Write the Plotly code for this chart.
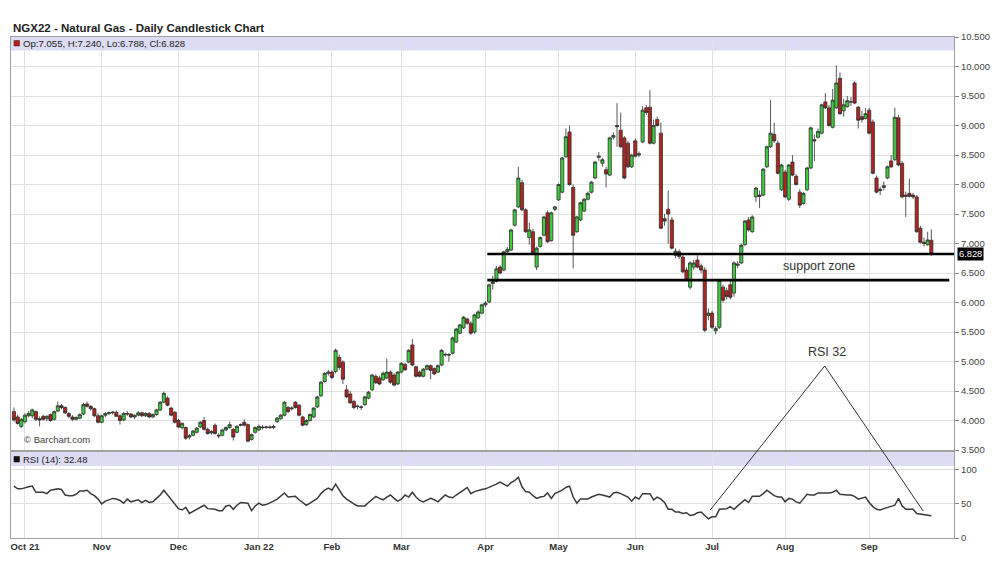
import pandas as pd
import plotly.graph_objects as go

# ---------------- trading calendar ----------------
first_day = "2021-09-28"
last_day = "2022-09-27"
exchange_holidays = ["2021-11-25", "2021-12-24", "2022-01-17", "2022-02-21", "2022-04-15",
                     "2022-05-30", "2022-06-20", "2022-07-04", "2022-09-05"]
trade_dates = pd.bdate_range(first_day, last_day, freq="C", holidays=exchange_holidays)

month_labels = ["Oct 21", "Nov", "Dec", "Jan 22", "Feb", "Mar", "Apr", "May", "Jun", "Jul", "Aug", "Sep"]

# ---------------- OHLC data ----------------
open_px = [
    4.15, 4.06, 3.90, 3.98, 4.08, 4.08, 4.15, 4.03, 4.07, 4.03,
    4.10, 4.02, 4.16, 4.25, 4.22, 4.12, 4.06, 4.02, 4.04, 4.11,
    4.28, 4.24, 4.20, 4.08, 3.97, 4.09, 4.12, 4.13, 4.14, 4.08,
    4.01, 4.12, 4.11, 4.06, 4.09, 4.13, 4.08, 4.12, 4.06, 4.10,
    4.18, 4.31, 4.38, 4.21, 4.14, 4.00, 3.88, 3.88, 3.72, 3.75,
    3.80, 3.89, 4.00, 3.85, 3.79, 3.92, 3.75, 3.75, 3.84, 3.88,
    3.85, 3.80, 3.92, 3.97, 3.93, 3.68, 3.80, 3.84, 3.89, 3.88,
    3.89, 3.88, 3.98, 4.03, 4.09, 4.22, 4.20, 4.31, 4.26, 4.06,
    3.93, 4.00, 4.06, 4.23, 4.42, 4.66, 4.80, 4.82, 4.83, 5.07,
    4.99, 4.52, 4.45, 4.32, 4.24, 4.22, 4.27, 4.38, 4.52, 4.75,
    4.72, 4.69, 4.72, 4.82, 4.77, 4.62, 4.82, 4.95, 4.99, 5.28,
    4.91, 4.82, 4.75, 4.87, 4.93, 4.88, 4.82, 4.94, 5.11, 5.12,
    5.14, 5.33, 5.48, 5.57, 5.72, 5.65, 5.50, 5.74, 5.82, 5.96,
    6.01, 6.32, 6.36, 6.60, 6.55, 6.86, 6.89, 7.31, 7.62, 8.03,
    7.57, 7.10, 7.20, 6.60, 6.95, 7.14, 7.52, 7.05, 7.58, 7.74,
    7.87, 8.47, 8.89, 7.95, 7.20, 7.40, 7.55, 7.75, 7.87, 8.11,
    8.46, 8.36, 8.25, 8.16, 8.80, 9.00, 8.92, 8.79, 8.70, 8.30,
    8.74, 8.50, 8.72, 9.30, 9.31, 8.70, 9.10, 8.87, 7.42, 7.58,
    7.40, 6.80, 6.86, 6.77, 6.55, 6.26, 6.60, 6.72, 6.62, 6.55,
    5.78, 5.82, 5.52, 5.58, 6.26, 6.20, 6.30, 6.16, 6.63, 6.67,
    6.98, 7.40, 7.20, 7.79, 7.82, 7.82, 8.30, 8.64, 8.85, 8.70,
    7.91, 8.21, 7.75, 8.38, 8.14, 7.87, 7.68, 7.91, 8.28, 8.76,
    8.80, 8.87, 9.40, 9.30, 8.97, 9.30, 9.80, 9.25, 9.32, 9.40,
    9.72, 9.31, 9.15, 9.12, 9.26, 9.06, 8.11, 7.92, 7.95, 8.11,
    8.40, 8.42, 9.13, 8.36, 7.82, 7.85, 7.82, 7.79, 7.26, 7.02,
    6.98, 7.055,
]
high_px = [
    4.22, 4.10, 4.04, 4.12, 4.16, 4.20, 4.17, 4.07, 4.10, 4.09,
    4.12, 4.17, 4.32, 4.28, 4.24, 4.14, 4.09, 4.07, 4.12, 4.30,
    4.32, 4.26, 4.22, 4.12, 4.10, 4.14, 4.15, 4.16, 4.17, 4.10,
    4.14, 4.16, 4.13, 4.10, 4.16, 4.15, 4.14, 4.14, 4.12, 4.20,
    4.33, 4.49, 4.41, 4.23, 4.16, 4.03, 3.97, 3.90, 3.77, 3.84,
    3.89, 3.99, 4.06, 3.88, 3.84, 3.95, 3.78, 3.86, 3.90, 3.98,
    3.87, 3.92, 3.95, 4.02, 3.95, 3.78, 3.90, 3.93, 3.92, 3.91,
    3.92, 3.93, 4.06, 4.11, 4.33, 4.25, 4.24, 4.33, 4.28, 4.08,
    4.02, 4.12, 4.23, 4.42, 4.67, 4.82, 4.86, 4.85, 5.22, 5.12,
    5.02, 4.60, 4.50, 4.35, 4.27, 4.26, 4.42, 4.50, 4.79, 4.78,
    4.76, 4.83, 5.05, 4.85, 4.80, 4.84, 4.99, 4.98, 5.21, 5.38,
    4.93, 4.85, 4.89, 4.95, 4.95, 4.90, 4.95, 5.21, 5.15, 5.14,
    5.42, 5.57, 5.64, 5.77, 5.74, 5.68, 5.81, 5.87, 5.98, 6.02,
    6.32, 6.45, 6.62, 6.63, 6.88, 6.94, 7.25, 7.59, 8.30, 8.08,
    7.60, 7.35, 7.25, 6.95, 7.12, 7.47, 7.56, 7.54, 7.64, 8.02,
    8.47, 8.95, 9.00, 8.00, 7.47, 7.71, 7.77, 7.88, 8.06, 8.40,
    8.55, 8.45, 8.30, 8.81, 8.88, 9.38, 9.22, 8.82, 8.74, 8.52,
    8.78, 8.56, 9.33, 9.35, 9.60, 9.10, 9.15, 9.05, 7.50, 7.90,
    7.45, 6.92, 6.90, 6.80, 6.60, 6.70, 6.72, 6.80, 6.66, 6.60,
    5.90, 5.86, 5.60, 6.40, 6.30, 6.25, 6.38, 6.70, 6.70, 7.00,
    7.40, 7.45, 7.48, 7.96, 7.90, 8.28, 8.66, 9.43, 9.05, 8.75,
    8.35, 8.25, 8.35, 8.50, 8.18, 7.92, 7.87, 8.30, 8.98, 8.85,
    8.95, 9.37, 9.55, 9.35, 9.62, 10.02, 9.90, 9.45, 9.50, 9.48,
    9.75, 9.33, 9.25, 9.30, 9.30, 9.10, 8.15, 7.96, 8.05, 8.32,
    8.50, 9.30, 9.18, 8.40, 7.88, 8.10, 7.86, 7.82, 7.30, 7.10,
    7.20, 7.240,
]
low_px = [
    3.98, 3.93, 3.87, 3.95, 4.05, 4.04, 3.99, 3.90, 4.00, 3.99,
    3.98, 4.00, 4.14, 4.19, 4.11, 4.04, 3.99, 4.00, 4.02, 4.09,
    4.22, 4.17, 4.06, 3.95, 3.95, 4.06, 4.09, 4.10, 4.06, 3.93,
    3.99, 4.08, 4.04, 4.02, 4.07, 4.06, 4.06, 4.04, 4.04, 4.08,
    4.16, 4.29, 4.24, 4.07, 3.95, 3.87, 3.85, 3.67, 3.68, 3.73,
    3.78, 3.87, 3.83, 3.76, 3.76, 3.76, 3.70, 3.73, 3.82, 3.86,
    3.66, 3.78, 3.90, 3.90, 3.63, 3.66, 3.78, 3.82, 3.85, 3.86,
    3.86, 3.85, 3.96, 4.01, 4.07, 4.13, 4.17, 4.20, 4.07, 3.90,
    3.91, 3.98, 4.04, 4.21, 4.40, 4.64, 4.76, 4.70, 4.80, 4.86,
    4.62, 4.38, 4.28, 4.19, 4.19, 4.18, 4.25, 4.36, 4.50, 4.62,
    4.60, 4.67, 4.70, 4.62, 4.58, 4.60, 4.80, 4.84, 4.97, 4.92,
    4.73, 4.73, 4.73, 4.85, 4.70, 4.77, 4.80, 4.92, 5.08, 5.00,
    5.12, 5.31, 5.46, 5.55, 5.62, 5.45, 5.47, 5.72, 5.80, 5.92,
    5.99, 6.22, 6.34, 6.48, 6.53, 6.84, 6.87, 7.29, 7.60, 7.55,
    7.18, 6.98, 6.82, 6.55, 6.93, 7.12, 7.01, 7.03, 7.55, 7.72,
    7.85, 8.45, 7.98, 6.58, 7.18, 7.38, 7.53, 7.73, 7.85, 8.09,
    8.40, 8.30, 7.95, 8.14, 8.76, 8.64, 8.62, 8.09, 8.28, 8.28,
    8.46, 8.46, 8.70, 9.18, 8.68, 8.68, 8.98, 7.24, 7.30, 7.00,
    6.90, 6.75, 6.74, 6.50, 6.36, 6.22, 6.55, 6.58, 6.50, 5.50,
    5.70, 5.55, 5.46, 5.55, 6.00, 6.05, 6.05, 6.10, 6.58, 6.65,
    6.96, 7.20, 7.18, 7.70, 7.60, 7.80, 8.28, 8.62, 8.70, 8.17,
    7.89, 7.77, 7.72, 8.14, 7.98, 7.60, 7.66, 7.89, 8.26, 8.40,
    8.78, 8.85, 9.28, 8.98, 8.95, 9.28, 9.18, 9.15, 9.30, 9.33,
    9.36, 8.95, 9.05, 9.10, 8.85, 8.17, 7.85, 7.82, 7.90, 8.09,
    8.28, 8.40, 8.31, 7.77, 7.45, 7.78, 7.75, 7.18, 7.00, 6.95,
    6.96, 6.788,
]
close_px = [
    4.01, 3.95, 4.02, 4.09, 4.12, 4.18, 4.02, 4.01, 4.02, 4.07,
    4.00, 4.15, 4.25, 4.22, 4.13, 4.07, 4.02, 4.05, 4.10, 4.27,
    4.24, 4.20, 4.08, 3.97, 4.08, 4.12, 4.13, 4.14, 4.07, 4.00,
    4.12, 4.11, 4.06, 4.09, 4.13, 4.08, 4.12, 4.06, 4.10, 4.18,
    4.31, 4.46, 4.26, 4.09, 3.97, 3.89, 3.95, 3.70, 3.74, 3.82,
    3.87, 3.97, 3.85, 3.78, 3.81, 3.78, 3.74, 3.84, 3.88, 3.93,
    3.72, 3.90, 3.93, 3.92, 3.65, 3.76, 3.88, 3.90, 3.88, 3.89,
    3.88, 3.90, 4.04, 4.09, 4.31, 4.15, 4.21, 4.22, 4.09, 3.92,
    4.00, 4.10, 4.21, 4.40, 4.65, 4.80, 4.82, 4.73, 5.19, 4.90,
    4.70, 4.40, 4.30, 4.22, 4.24, 4.23, 4.40, 4.48, 4.77, 4.64,
    4.62, 4.80, 4.82, 4.65, 4.60, 4.82, 4.97, 4.86, 5.19, 4.94,
    4.75, 4.75, 4.87, 4.93, 4.85, 4.79, 4.93, 5.19, 5.12, 5.11,
    5.40, 5.55, 5.62, 5.75, 5.65, 5.48, 5.79, 5.84, 5.96, 5.99,
    6.30, 6.35, 6.57, 6.50, 6.86, 6.90, 7.23, 7.57, 8.11, 7.57,
    7.20, 7.23, 6.84, 6.92, 7.10, 7.45, 7.03, 7.52, 7.62, 8.00,
    8.45, 8.81, 8.00, 7.14, 7.45, 7.69, 7.75, 7.85, 8.04, 8.38,
    8.48, 8.42, 8.18, 8.79, 8.83, 8.98, 8.64, 8.11, 8.30, 8.50,
    8.48, 8.52, 9.26, 9.22, 8.70, 9.00, 9.00, 7.26, 7.38, 7.50,
    6.92, 6.87, 6.78, 6.52, 6.38, 6.67, 6.67, 6.60, 6.55, 5.53,
    5.82, 5.58, 5.56, 6.38, 6.04, 6.10, 6.09, 6.67, 6.65, 6.97,
    7.38, 7.23, 7.45, 7.94, 7.80, 8.26, 8.64, 8.87, 8.74, 8.19,
    8.33, 7.79, 8.33, 8.16, 8.00, 7.65, 7.85, 8.28, 8.96, 8.74,
    8.90, 9.35, 9.30, 9.00, 9.43, 9.72, 9.20, 9.35, 9.42, 9.40,
    9.38, 9.09, 9.10, 9.20, 8.87, 8.19, 7.87, 7.90, 7.98, 8.30,
    8.30, 9.14, 8.33, 7.79, 7.80, 7.80, 7.79, 7.20, 7.02, 7.00,
    7.06, 6.828,
]
rsi14 = [
    76, 72, 72, 74, 75, 76, 67, 67, 67, 65,
    70, 71, 72, 71, 63, 62, 62, 64, 69, 69,
    70, 65, 62, 57, 50, 54, 56, 58, 57, 55,
    51, 57, 53, 55, 56, 52, 55, 52, 53, 58,
    63, 70, 63, 57, 50, 43, 41, 45, 36, 39,
    42, 45, 48, 43, 43, 42, 40, 40, 47, 48,
    42, 48, 52, 51, 51, 40, 47, 51, 48, 49,
    51, 54, 57, 62, 66, 60, 61, 61, 56, 52,
    48, 51, 54, 58, 65, 70, 73, 70, 79, 70,
    62, 57, 53, 50, 47, 47, 47, 52, 56, 61,
    58, 56, 60, 63, 58, 54, 57, 63, 60, 67,
    60, 55, 53, 56, 58, 56, 53, 58, 63, 60,
    59, 63, 66, 70, 74, 65, 68, 70, 71, 72,
    74, 76, 79, 82, 79, 76, 81, 84, 89, 75,
    68, 67, 62, 58, 60, 61, 66, 58, 65, 67,
    70, 74, 76, 60, 51, 57, 57, 57, 60, 62,
    64, 63, 62, 60, 66, 67, 65, 63, 60, 54,
    60, 57, 65, 65, 65, 56, 60, 57, 52, 42,
    42, 38, 38, 36, 37, 33, 34, 37, 38, 33,
    28, 31, 31, 42, 43, 43, 46, 42, 47, 51,
    56, 52, 61, 61, 61, 65, 70, 66, 62, 60,
    60, 53, 58, 57, 53, 51, 57, 64, 63, 63,
    66, 66, 65, 66, 67, 70, 64, 63, 63, 63,
    61, 57, 59, 60, 52, 46, 42, 41, 43, 45,
    47, 48, 58, 47, 42, 42, 42, 36, 35, 35,
    34, 32.48,
]

price_ticks = [3.5, 4.0, 4.5, 5.0, 5.5, 6.0, 6.5, 7.0, 7.5, 8.0, 8.5, 9.0, 9.5, 10.0, 10.5]
rsi_ticks = [0, 50, 100]
support_levels = [6.822, 6.38]
support_from = "2022-04-01"

# ---------------- geometry helpers (pixel layout of the 1000x568 picture) ----------------
L, R, T, B = 10, 958, 37, 538
PW, PH = R - L, B - T


def pxx(p):
    return (p - L) / PW


def pxy(p):
    return (B - p) / PH


n = len(close_px)
x_idx = list(range(n))
month_pos = [i for i in range(1, len(trade_dates)) if trade_dates[i].month != trade_dates[i - 1].month]
x_range = [-0.82, n - 1 + 6.2]
sup_x0 = trade_dates.get_loc(pd.Timestamp(support_from)) + 0.5

main_dom = [pxy(450), 1.0]
rsi_dom = [0.0, pxy(452)]

fig = go.Figure()
fig.add_trace(go.Candlestick(
    x=x_idx, open=open_px, high=high_px, low=low_px, close=close_px,
    increasing=dict(fillcolor="#3fcc3f", line=dict(color="#2e2e2e", width=0.8)),
    decreasing=dict(fillcolor="#b52320", line=dict(color="#2e2e2e", width=0.8)),
    whiskerwidth=0, showlegend=False, xaxis="x", yaxis="y", hoverinfo="skip",
))
fig.add_trace(go.Scatter(
    x=x_idx, y=rsi14, mode="lines", line=dict(color="#3a3a3a", width=1.5),
    showlegend=False, xaxis="x2", yaxis="y2", hoverinfo="skip",
))

axis_line = "#a0a0a0"
grid = "#e1e1e1"
tick_font = dict(family="Liberation Sans, Arial, sans-serif", size=9.5, color="#444444")

fig.update_layout(
    width=1000, height=568,
    margin=dict(l=L, r=1000 - R, t=T, b=568 - B),
    paper_bgcolor="white", plot_bgcolor="white",
    showlegend=False, boxgap=0.14, boxgroupgap=0,
    font=dict(family="Liberation Sans, Arial, sans-serif"),
    xaxis=dict(domain=[0, 1], anchor="y", range=x_range, tickvals=month_pos,
               showticklabels=False, showgrid=True, gridcolor=grid, zeroline=False,
               showline=True, mirror=True, linecolor=axis_line, ticks="",
               rangeslider=dict(visible=False)),
    yaxis=dict(domain=main_dom, anchor="x", range=[3.5, 10.5], side="right",
               tickvals=price_ticks, tickformat=".3f", ticks="outside", ticklen=4,
               tickcolor="#888888", showgrid=True, gridcolor=grid, zeroline=False,
               showline=True, mirror=True, linecolor=axis_line, tickfont=tick_font),
    xaxis2=dict(domain=[0, 1], anchor="y2", matches="x", range=x_range, tickvals=month_pos,
                ticktext=month_labels, showgrid=True, gridcolor=grid, zeroline=False,
                showline=True, mirror=True, linecolor=axis_line, ticks="",
                tickfont=dict(family="Liberation Sans, Arial, sans-serif", size=9.5,
                              color="#333333", weight="bold"),
                rangeslider=dict(visible=False)),
    yaxis2=dict(domain=rsi_dom, anchor="x2", range=[0, 126], side="right",
                tickvals=rsi_ticks, ticks="outside", ticklen=4, tickcolor="#888888",
                showgrid=True, gridcolor=grid, zeroline=False,
                showline=True, mirror=True, linecolor=axis_line, tickfont=tick_font),
)

band = "#dcdcf5"
shapes = [
    dict(type="rect", xref="paper", yref="paper", x0=0, x1=1, y0=pxy(50.5), y1=1,
         fillcolor=band, line=dict(width=0), layer="below"),
    dict(type="rect", xref="paper", yref="paper", x0=0, x1=1, y0=pxy(466), y1=pxy(452),
         fillcolor=band, line=dict(width=0), layer="below"),
    # legend squares
    dict(type="rect", xref="paper", yref="paper", x0=pxx(13), x1=pxx(18.5), y0=pxy(46), y1=pxy(40.5),
         fillcolor="#c8171b", line=dict(color="#333333", width=0.6)),
    dict(type="rect", xref="paper", yref="paper", x0=pxx(13), x1=pxx(18.5), y0=pxy(462), y1=pxy(456.5),
         fillcolor="#111111", line=dict(color="#111111", width=0.6)),
    # support zone lines
    dict(type="line", xref="x", yref="y", x0=sup_x0, x1=x_range[1], y0=support_levels[0], y1=support_levels[0],
         line=dict(color="black", width=2.6)),
    dict(type="line", xref="x", yref="y", x0=sup_x0, x1=x_range[1] - 1.3, y0=support_levels[1], y1=support_levels[1],
         line=dict(color="black", width=2.6)),
    # RSI triangle drawing
    dict(type="line", xref="paper", yref="paper", x0=pxx(713), y0=pxy(510), x1=pxx(828), y1=pxy(366),
         line=dict(color="#333333", width=1)),
    dict(type="line", xref="paper", yref="paper", x0=pxx(828), y0=pxy(366), x1=pxx(927), y1=pxy(511),
         line=dict(color="#333333", width=1)),
]
fig.update_layout(shapes=shapes)

header = f"Op:{open_px[-1]:.3f}, H:{high_px[-1]:.3f}, Lo:{low_px[-1]:.3f}, Cl:{close_px[-1]:.3f}"
annots = [
    dict(text="<b>NGX22 - Natural Gas - Daily Candlestick Chart</b>", xref="paper", yref="paper",
         x=pxx(10), y=pxy(27.5), xanchor="left", yanchor="middle", showarrow=False,
         font=dict(size=11.5, color="#222222")),
    dict(text=header, xref="paper", yref="paper", x=pxx(20.5), y=pxy(43.5), xanchor="left",
         yanchor="middle", showarrow=False, font=dict(size=9.6, color="#222222")),
    dict(text=f"RSI (14): {rsi14[-1]:.2f}", xref="paper", yref="paper", x=pxx(20.5), y=pxy(459.5),
         xanchor="left", yanchor="middle", showarrow=False, font=dict(size=9.5, color="#222222")),
    dict(text="© Barchart.com", xref="paper", yref="paper", x=pxx(21), y=pxy(439),
         xanchor="left", yanchor="middle", showarrow=False, font=dict(size=9.5, color="#444444")),
    dict(text="support zone", xref="paper", yref="paper", x=pxx(822), y=pxy(266),
         xanchor="center", yanchor="middle", showarrow=False, font=dict(size=12.5, color="#333333")),
    dict(text="RSI 32", xref="paper", yref="paper", x=pxx(830), y=pxy(352),
         xanchor="center", yanchor="middle", showarrow=False, font=dict(size=12.5, color="#333333")),
    dict(text=f"{close_px[-1]:.3f}", xref="paper", yref="y", x=pxx(961), y=close_px[-1],
         xanchor="left", yanchor="middle", showarrow=False, bgcolor="black", borderpad=1,
         font=dict(size=9.3, color="white")),
]
fig.update_layout(annotations=annots)

fig.write_html("out.html", config={"displayModeBar": False},
               post_script="document.body.style.margin='0';document.body.style.overflow='hidden';")
